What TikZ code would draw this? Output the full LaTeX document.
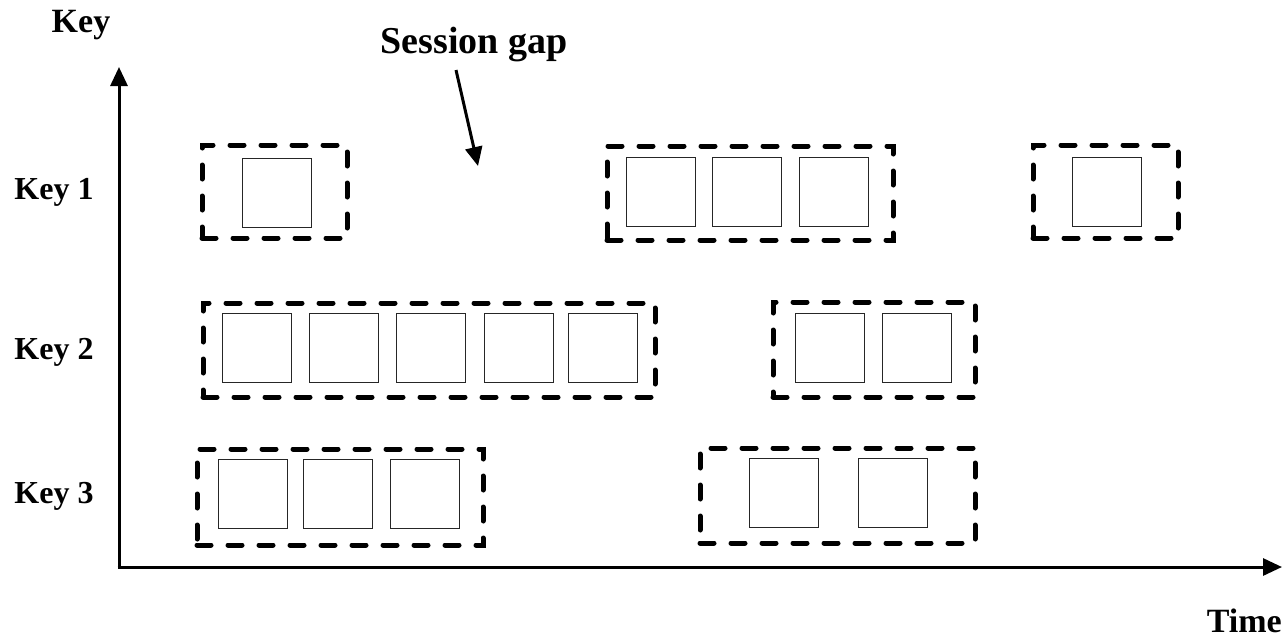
\documentclass[tikz,border=0pt]{standalone}
\usepackage{fontspec}
\setmainfont{Liberation Serif}
\usetikzlibrary{arrows.meta}
\begin{document}
\begin{tikzpicture}[x=1pt,y=-1pt,
  sess/.style={draw=black,line width=5pt,dash pattern=on 14pt off 17pt,line cap=round,rectangle,inner sep=0pt},
  ev/.style={draw=black!85,line width=1pt,rectangle,minimum width=69pt,minimum height=69pt,inner sep=0pt},
  lab/.style={font=\bfseries\fontsize{32}{37}\selectfont,inner sep=0pt},
  axis/.style={line width=3pt,-{Triangle[width=17pt,length=19pt]}}]
\useasboundingbox (0,0) rectangle (1282,641);
% axes
\coordinate (o) at (119,567);
\coordinate (ytop) at (119,67);
\coordinate (xend) at (1282,567);
\draw[axis] (o) -- (ytop);
\draw[axis] ([xshift=-1.5pt]o) -- (xend);
% labels
\node[lab,font=\bfseries\fontsize{34}{40}\selectfont] (lkey) at (81,25) {Key};
\node[lab,font=\bfseries\fontsize{38}{44}\selectfont] (lgap) at (474,45) {Session gap};
\node[lab] (l1) at (54,192) {Key 1};
\node[lab] (l2) at (54,352) {Key 2};
\node[lab] (l3) at (54,496) {Key 3};
\node[lab,font=\bfseries\fontsize{34}{40}\selectfont,anchor=east] (ltime) at (1282,621) {Time};
% session gap arrow
\coordinate (gs) at (456,70);
\coordinate (ge) at (478,166);
\draw[axis] (gs) -- (ge);
% session windows
\node[sess,minimum width=145pt,minimum height=93pt] (s1a) at (274.5,191.5) {};
\node[sess,minimum width=286pt,minimum height=94pt] (s1b) at (750,193) {};
\node[sess,minimum width=145pt,minimum height=93pt] (s1c) at (1105.5,191.5) {};
\node[sess,minimum width=452pt,minimum height=94pt] (s2a) at (429,350) {};
\node[sess,minimum width=202pt,minimum height=95pt] (s2b) at (874,349.5) {};
\node[sess,minimum width=286pt,minimum height=96pt] (s3a) at (340,497) {};
\node[sess,minimum width=275pt,minimum height=95pt] (s3b) at (837.5,495.5) {};
% events
\node[ev] (e11) at (276.5,192.5) {};
\node[ev] (e12) at (661,191.5) {};
\node[ev] (e13) at (747,191.5) {};
\node[ev] (e14) at (834,191.5) {};
\node[ev] (e15) at (1107,192) {};
\node[ev] (e21) at (257,347.5) {};
\node[ev] (e22) at (343.5,347.5) {};
\node[ev] (e23) at (431,347.5) {};
\node[ev] (e24) at (519,347.5) {};
\node[ev] (e25) at (603,347.5) {};
\node[ev] (e26) at (829.5,347.5) {};
\node[ev] (e27) at (917,347.5) {};
\node[ev] (e31) at (252.5,494) {};
\node[ev] (e32) at (338,494) {};
\node[ev] (e33) at (425,494) {};
\node[ev] (e34) at (783.5,493) {};
\node[ev] (e35) at (892.5,493) {};
\end{tikzpicture}
\end{document}
